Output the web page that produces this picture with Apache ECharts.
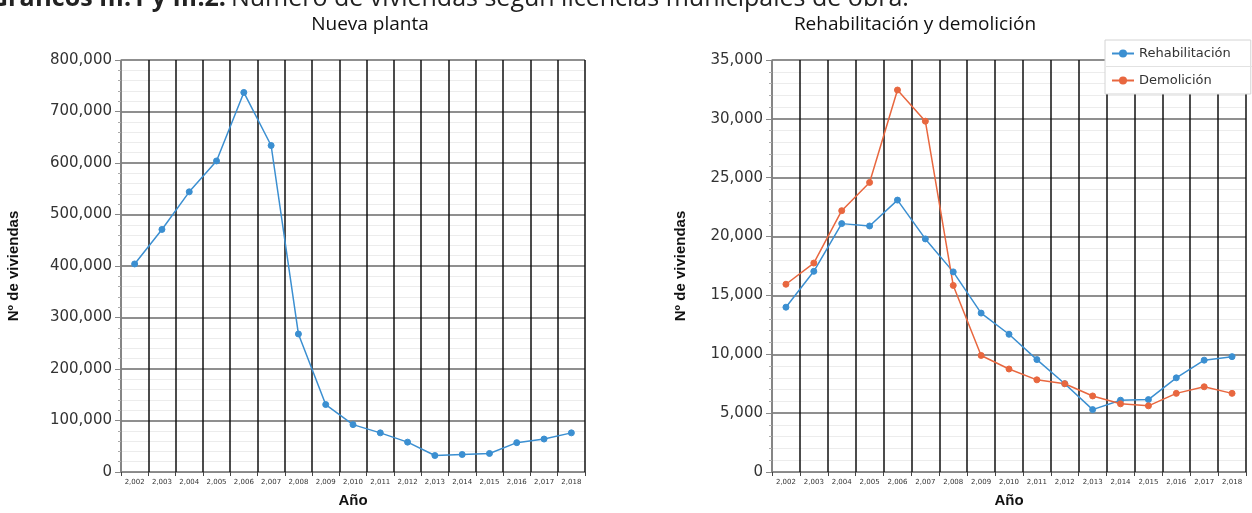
<!DOCTYPE html>
<html>
<head>
<meta charset="utf-8">
<script src="https://cdn.jsdelivr.net/npm/echarts@6/dist/echarts.min.js"></script>
<style>
html,body{margin:0;padding:0;background:#fff;}
#c{width:1252px;height:513px;}
</style>
</head>
<body>
<div id="c"></div>
<script>
const years = ['2002','2003','2004','2005','2006','2007','2008','2009','2010','2011','2012','2013','2014','2015','2016','2017','2018'];
const nuevaPlanta = [404000,471000,544000,604000,737000,634000,268000,131000,92000,76000,58000,32000,34000,36000,57000,64000,76000];
const rehabilitacion = [14000,17050,21100,20900,23100,19800,17000,13500,11700,9550,7500,5300,6100,6150,8000,9500,9800];
const demolicion = [15950,17750,22200,24600,32450,29800,15850,9900,8750,7830,7500,6460,5790,5620,6680,7240,6680];
const yTicksLeft = {min:0, max:800000, interval:100000};
const yTicksRight = {min:0, max:35000, interval:5000};

const fmt = v => Number(v).toLocaleString('en-US');
const blue = '#3b8fd1', orange = '#e8673f';

function xAxis(gridIndex){
  return {
    type:'category', gridIndex, data:years, boundaryGap:true,
    name:'Año', nameLocation:'middle', nameGap:21,
    nameTextStyle:{fontFamily:'Liberation Sans', fontWeight:'bold', fontSize:15, color:'#111'},
    axisLine:{lineStyle:{color:'#888', width:1}},
    axisTick:{show:true, interval:0, length:4, lineStyle:{color:'#444'}},
    axisLabel:{interval:0, fontSize:7, color:'#333', fontFamily:'DejaVu Sans', margin:7, formatter:v=>fmt(v)},
    splitLine:{show:true, interval:0, lineStyle:{color:'#111', width:1.5}}
  };
}
function yAxis(gridIndex, t, gap){
  return {
    type:'value', gridIndex, min:t.min, max:t.max, interval:t.interval,
    name:'Nº de viviendas', nameLocation:'middle', nameGap:gap,
    nameTextStyle:{fontFamily:'Liberation Sans Narrow, Liberation Sans', fontWeight:'bold', fontSize:15, color:'#111'},
    axisLine:{show:true, lineStyle:{color:'#999', width:1.5}},
    axisTick:{show:true, length:6, lineStyle:{color:'#888'}},
    minorTick:{show:true, splitNumber:5, length:3, lineStyle:{color:'#aaa'}},
    axisLabel:{fontSize:15, color:'#333', fontFamily:'DejaVu Sans', margin:9, formatter:v=>fmt(v)},
    splitLine:{show:true, lineStyle:{color:'#6a6a6a', width:1.5}},
    minorSplitLine:{show:true, lineStyle:{color:'#ececec', width:1}}
  };
}
function lineSeries(name, data, color, idx){
  return {
    name, type:'line', data, xAxisIndex:idx, yAxisIndex:idx,
    symbol:'circle', symbolSize:6, color,
    lineStyle:{color, width:1.5},
    itemStyle:{color, borderColor:color},
    emphasis:{disabled:true}
  };
}

const chart = echarts.init(document.getElementById('c'), null, {renderer:'canvas'});
chart.setOption({
  animation:false,
  backgroundColor:'#fff',
  title:[
    {text:'{b|Gráficos III.1 y III.2:} {n|Número de viviendas según licencias municipales de obra.}',
     left:-15, top:-19,
     textStyle:{rich:{
       b:{fontFamily:'Open Sans', fontWeight:'bold', fontSize:25, color:'#222'},
       n:{fontFamily:'Open Sans', fontWeight:'normal', fontSize:25, color:'#222'}
     }}},
    {text:'Nueva planta', left:365, top:10, textAlign:'center',
     textStyle:{fontFamily:'Open Sans', fontWeight:'normal', fontSize:19, color:'#111'}},
    {text:'Rehabilitación y demolición', left:910, top:10, textAlign:'center',
     textStyle:{fontFamily:'Open Sans', fontWeight:'normal', fontSize:19, color:'#111'}}
  ],
  legend:{
    data:['Rehabilitación','Demolición'],
    orient:'vertical', left:1105, top:40,
    itemWidth:22, itemHeight:10, itemGap:14,
    padding:[7,20,7,6],
    backgroundColor:'#fff', borderColor:'#d4d4d4', borderWidth:1,
    textStyle:{fontFamily:'DejaVu Sans', fontSize:13, color:'#333'}
  },
  graphic:[
    {type:'line', z:100, shape:{x1:1106, y1:66.5, x2:1252, y2:66.5}, style:{stroke:'#e2e2e2', lineWidth:1}}
  ],
  grid:[
    {left:121, top:60, width:464, height:419},
    {left:772, top:60, width:474, height:419}
  ],
  xAxis:[xAxis(0), xAxis(1)],
  yAxis:[yAxis(0, yTicksLeft, 100), yAxis(1, yTicksRight, 84)],
  series:[
    lineSeries('Nueva planta', nuevaPlanta, blue, 0),
    lineSeries('Rehabilitación', rehabilitacion, blue, 1),
    lineSeries('Demolición', demolicion, orange, 1)
  ]
});
</script>
</body>
</html>
